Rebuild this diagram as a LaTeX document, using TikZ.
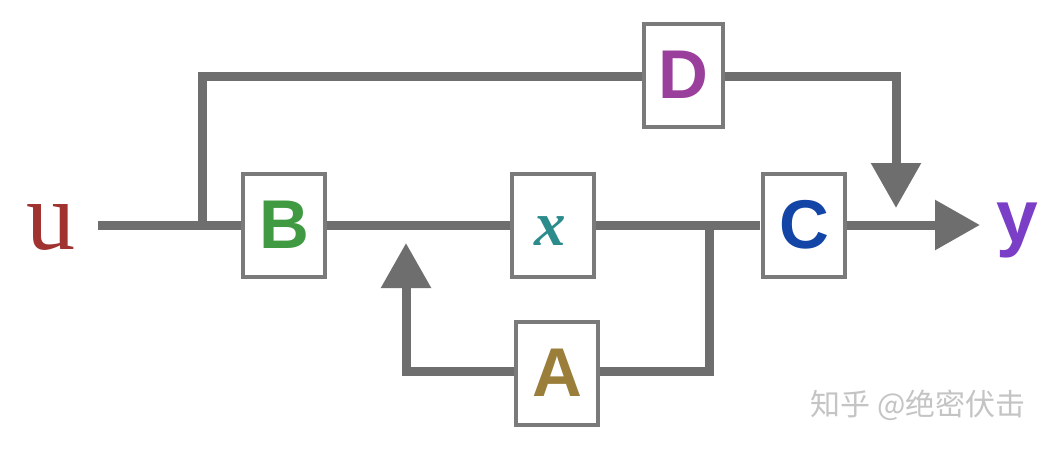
\documentclass[tikz,border=0pt]{standalone}
\usepackage{fontspec}
\newfontfamily\lsans{Liberation Sans}
\newfontfamily\lserif{Liberation Serif}
\newfontfamily\cjk{Noto Sans CJK SC}
\usetikzlibrary{arrows.meta}
\definecolor{wiregray}{HTML}{6E6E6E}
\definecolor{boxgray}{HTML}{7A7A7A}
\definecolor{ucol}{HTML}{A0322F}
\definecolor{bcol}{HTML}{3F9A41}
\definecolor{xcol}{HTML}{2C8C8C}
\definecolor{ccol}{HTML}{1245A5}
\definecolor{dcol}{HTML}{9A3F9B}
\definecolor{acol}{HTML}{9A7E3A}
\definecolor{ycol}{HTML}{7A3FC6}
\definecolor{wmgray}{HTML}{C4C4C4}
\begin{document}
\begin{tikzpicture}[x=1pt,y=-1pt,
  wire/.style={draw=wiregray,line width=9pt},
  arr/.style={-{Triangle[width=48pt,length=45pt]}},
  blockbox/.style={draw=boxgray,line width=4pt,fill=white,minimum width=82pt,minimum height=103pt,inner sep=0pt},
  letter/.style={font=\lsans\bfseries\fontsize{69}{69}\selectfont}
]
\useasboundingbox (0,0) rectangle (1062,450);
\fill[white] (0,0) rectangle (1062,450);

% labels at ends
\node[text=ucol,font=\lserif\fontsize{98}{98}\selectfont,inner sep=0pt] (u) at (51,227.5) {u};
\node[text=ycol,font=\lsans\bfseries\fontsize{75}{75}\selectfont,inner sep=0pt] (y) at (1017,230) {y};

% coordinates
\coordinate (in) at (98,225);
\coordinate (j1) at (202,225);
\coordinate (j2) at (709,225);
\coordinate (yend) at (980,225);
\coordinate (dtip) at (896,208);
\coordinate (atip) at (406,243);

% wires (drawn first, boxes on top)
\draw[wire] (in) -- (j2) -- (760,225);
\draw[wire] (j1) |- (683.5,76);
\draw[wire] (683.5,76) -| (896,180);
\draw[wire] (j2) |- (557,371);
\draw[wire] (557,371) -| (406,270);

% blocks
\node[blockbox,letter,text=bcol] (B) at (284,225) {B};
\node[blockbox] (X) at (553,225) {};
\node[text=xcol,font=\lserif\bfseries\itshape\fontsize{63}{63}\selectfont,inner sep=0pt] (xl) at (550,231) {x};
\node[blockbox,letter,text=ccol] (C) at (804,225) {C};
\node[blockbox,letter,text=acol] (A) at (557,373) {A};
\node[blockbox,letter,text=dcol,minimum width=79pt] (D) at (683.5,75) {D};

% arrows
\draw[wire,arr] (C.east) -- (yend);
\draw[wire,arr] (D.east) ++(0,1) -| (dtip);
\draw[wire,arr] (A.west) ++(0,-2) -| (atip);

% watermark
\node[text=wmgray,font=\cjk\fontsize{30}{30}\selectfont,inner sep=0pt] (wm) at (918,405) {知乎 @绝密伏击};
\end{tikzpicture}
\end{document}
